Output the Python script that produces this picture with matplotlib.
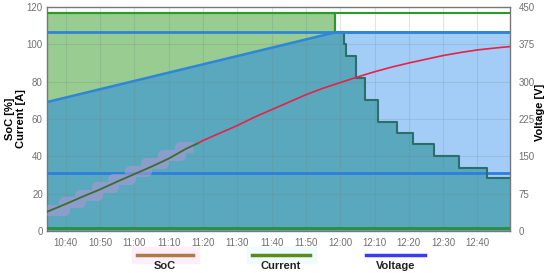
import numpy as np
import matplotlib
matplotlib.use("Agg")
import matplotlib.pyplot as plt
from matplotlib.lines import Line2D
from matplotlib.patches import Rectangle
from matplotlib.ticker import FuncFormatter, MultipleLocator

plt.rcParams['font.family'] = ['Liberation Sans', 'DejaVu Sans']


def to_min(s):
    parts = [int(p) for p in s.split(":")]
    if len(parts) == 2:
        parts.append(0)
    return parts[0] * 60 + parts[1] + parts[2] / 60.0


# Corriente [A] (escalones)
current_times = ["10:34:30", "11:58:30", "12:01:00", "12:01:40", "12:04:30", "12:07:20",
                 "12:11:00", "12:16:40", "12:21:20", "12:27:20", "12:34:30", "12:42:40", "12:49:30"]
current_vals = [117, 106.5, 100, 94, 82, 70, 58.5, 52.5, 46.5, 40, 34, 28.5, 28.5]

# Tension [V]
voltage_times = ["10:34:30", "11:58:30", "12:49:30"]
voltage_vals = [259, 399, 399]

# SoC [%]
soc_times = ["10:34:30", "10:40", "10:45", "10:50", "10:55", "11:00", "11:05", "11:10", "11:15",
             "11:18:30", "11:20", "11:25", "11:30", "11:35", "11:40", "11:45", "11:50", "11:55",
             "12:00", "12:05", "12:10", "12:15", "12:20", "12:25", "12:30", "12:35", "12:40",
             "12:45", "12:49:30"]
soc_vals = [10.3, 14.5, 18.5, 22.3, 26.5, 30.5, 34.5, 38.8, 44.0,
            47.0, 48.5, 52.5, 56.5, 61, 65, 69, 73, 76.5,
            79.5, 82.5, 85.3, 87.8, 90, 92, 94, 95.6, 97,
            98, 98.8]
soc_split = "11:18:30"

# Bloques lila (medicion previa)
block_times = ["10:34:30", "10:39:20", "10:44:10", "10:49:00", "10:53:50", "10:58:40",
               "11:03:30", "11:08:20", "11:13:10", "11:17:00"]
block_vals = [11.3, 15.3, 19.5, 23.5, 27.8, 32, 36.2, 40.5, 45, 45]

# Limites
current_max = 117
current_min = 1.5
voltage_max = 400
voltage_min = 116

V_SCALE = 450 / 120

ct = np.array([to_min(s) for s in current_times])
cv = np.array(current_vals, dtype=float)
vt = np.array([to_min(s) for s in voltage_times])
vv = np.array(voltage_vals, dtype=float) / V_SCALE
st = np.array([to_min(s) for s in soc_times])
sv = np.array(soc_vals)
bt = np.array([to_min(s) for s in block_times])
t0, t1 = ct[0], ct[-1]

fig = plt.figure(figsize=(5.5, 2.73), dpi=100)
ax = fig.add_axes([47 / 550, 1 - 231 / 273, 463 / 550, 224 / 273])

# Rellenos
grid_t = np.linspace(t0, t1, 4000)
idx = np.searchsorted(ct, grid_t, side="right") - 1
cur_grid = cv[np.clip(idx, 0, len(cv) - 1)]
volt_grid = np.interp(grid_t, vt, vv)
ax.fill_between(grid_t, 0, cur_grid, color="#98cc90", lw=0, zorder=1)
ax.fill_between(grid_t, 0, volt_grid, color="#a3cdf6", lw=0, zorder=1.1)
ax.fill_between(grid_t, 0, np.minimum(cur_grid, volt_grid), color="#5aa8bd", lw=0, zorder=1.2)

# Rejilla
ax.xaxis.set_major_locator(MultipleLocator(10))
ax.yaxis.set_major_locator(MultipleLocator(20))
ax.grid(True, color="#6f7f80", alpha=0.2, lw=0.8, zorder=1.5)
ax.set_axisbelow(False)

# Lineas limite
ax.axhline(current_max, color="#2a9b2a", lw=1.5, zorder=3)
ax.axhline(current_min, color="#2a8f3a", lw=2, zorder=3)
ax.axhline(voltage_max / V_SCALE, color="#2d86d9", lw=2, zorder=3)
ax.axhline(voltage_min / V_SCALE, color="#2d7fdc", lw=2, zorder=3)

# Corriente y tension
sw = to_min("11:58:30")
ax.plot(ct[ct <= sw + 0.01], cv[ct <= sw + 0.01], drawstyle="steps-post", color="#2a9b2a", lw=1.5, zorder=3.2)
ax.plot([sw, sw], [current_max, current_vals[1]], color="#2a9b2a", lw=1.5, zorder=3.2)
mask = ct >= sw
ax.plot(ct[mask], cv[mask], drawstyle="steps-post", color="#2c6e6a", lw=1.5, zorder=3.1)
ax.plot(vt, vv, color="#2d86d9", lw=1.8, zorder=3.3)

# SoC
ax.plot(bt, block_vals, drawstyle="steps-post", color="#ad98d6", alpha=0.6, lw=8, zorder=3.4,
        solid_capstyle="butt")
split = to_min(soc_split)
ax.plot(st[st <= split], sv[st <= split], color="#3f6b2c", lw=1.3, zorder=3.6)
ax.plot(st[st >= split], sv[st >= split], color="#e8204a", lw=1.2, zorder=3.6)

ax.set_xlim(t0, t1)
ax.set_ylim(0, 120)
ax.xaxis.set_major_formatter(FuncFormatter(lambda x, p: "%d:%02d" % (int(x // 60), int(round(x % 60)))))
ax.tick_params(length=0, labelsize=7, colors="#707070", pad=5)
ax.tick_params(axis="y", pad=3)
for s in ax.spines.values():
    s.set_color("#777777")
    s.set_linewidth(1)
ax.set_ylabel("SoC [%]\nCurrent [A]", fontsize=8, fontweight="bold", linespacing=1.05, va="center")
ax.yaxis.set_label_coords(-0.068, 0.5)

ax2 = ax.twinx()
ax2.set_ylim(0, 450)
ax2.yaxis.set_major_locator(MultipleLocator(75))
ax2.tick_params(length=0, labelsize=7, colors="#707070", pad=6)
ax2.set_ylabel("Voltage [V]", fontsize=8, fontweight="bold", va="center")
ax2.yaxis.set_label_coords(1.065, 0.53)
for s in ax2.spines.values():
    s.set_visible(False)

# Leyenda
legend_items = [("SoC", "#ad7a48", 137, 193, "#fdeefa"),
                ("Current", "#5a8a1e", 252, 310, "#eefcfc"),
                ("Voltage", "#3b3bf0", 366, 425, None)]
for label, col, xa, xb, bg in legend_items:
    if bg:
        fig.patches.append(Rectangle((xa / 550 - 0.01, 1 - 263 / 273), (xb - xa) / 550 + 0.02, 16 / 273,
                                     transform=fig.transFigure, color=bg, zorder=0))
    fig.add_artist(Line2D([xa / 550, xb / 550], [1 - 255 / 273] * 2, color=col, lw=2.5,
                          transform=fig.transFigure))
    fig.text((xa + xb) / 2 / 550, 1 - 266 / 273, label, ha="center", va="center",
             fontsize=8, fontweight="bold", color="#222222")

fig.savefig("out.png", dpi=100)
